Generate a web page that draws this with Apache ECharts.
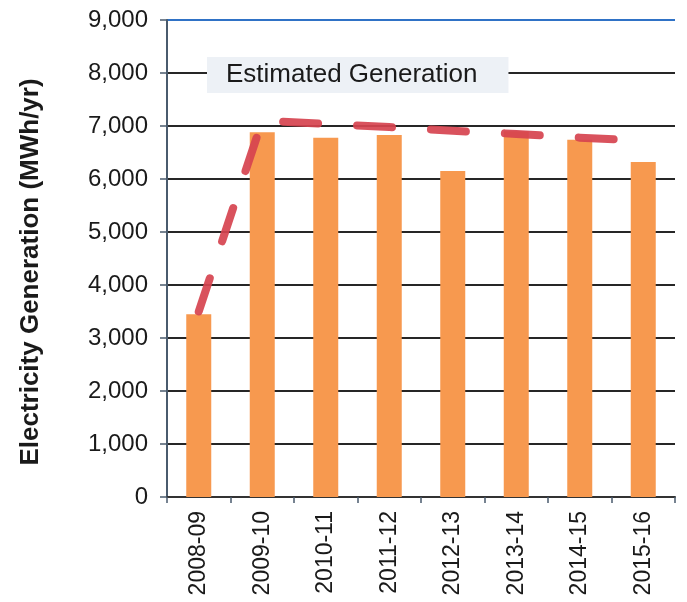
<!DOCTYPE html>
<html>
<head>
<meta charset="utf-8">
<script src="https://cdn.jsdelivr.net/npm/echarts@6/dist/echarts.min.js"></script>
<style>
html,body{margin:0;padding:0;background:#fff;}
#chart{width:687px;height:602px;}
</style>
</head>
<body>
<div id="chart"></div>
<script>
const categories = ['2008-09','2009-10','2010-11','2011-12','2012-13','2013-14','2014-15','2015-16'];
const actualGeneration = [3450, 6880, 6780, 6830, 6150, 6900, 6740, 6320];
const estimatedGeneration = [3500, 7100, 7040, 6980, 6910, 6850, 6780, 6720];
const yTicks = [0, 1000, 2000, 3000, 4000, 5000, 6000, 7000, 8000, 9000];
const yAxisTitle = 'Electricity Generation (MWh/yr)';
const legendLabel = 'Estimated Generation';

const font = '"Liberation Sans", Arial, sans-serif';
const chart = echarts.init(document.getElementById('chart'), null, {renderer: 'canvas'});
const gridColors = yTicks.map((v, i) => i === yTicks.length - 1 ? '#2f72c6' : '#262626');

chart.setOption({
  animation: false,
  backgroundColor: '#ffffff',
  grid: {left: 167, top: 20, right: 12, bottom: 105, containLabel: false},
  legend: {
    data: [{name: legendLabel, icon: 'none'}],
    left: 207, top: 57,
    itemWidth: 0, itemHeight: 0, itemGap: 0,
    padding: [5, 31, 5, 14],
    backgroundColor: '#edf1f6',
    selectedMode: false,
    textStyle: {fontFamily: font, fontSize: 26, color: '#1a1a1a'}
  },
  xAxis: {
    type: 'category',
    data: categories,
    axisLine: {show: true, lineStyle: {color: '#333', width: 2}},
    axisTick: {show: true, alignWithLabel: false, length: 6, lineStyle: {color: '#4a5b6d', width: 1.5}},
    axisLabel: {rotate: 90, margin: 14, fontFamily: font, fontSize: 23, color: '#1a1a1a'},
    splitLine: {show: false}
  },
  yAxis: {
    type: 'value',
    min: 0, max: 9000, interval: 1000,
    axisLine: {show: true, lineStyle: {color: '#4a5b6d', width: 2}},
    axisTick: {show: true, length: 7, lineStyle: {color: '#4a5b6d', width: 1.5}},
    axisLabel: {
      margin: 19, fontFamily: font, fontSize: 24, color: '#1a1a1a',
      formatter: v => v.toLocaleString('en-US')
    },
    splitLine: {show: true, lineStyle: {color: gridColors, width: 1.8}}
  },
  graphic: [{
    type: 'text',
    x: 31, y: 272,
    rotation: Math.PI / 2,
    style: {
      text: yAxisTitle,
      font: 'bold 26px ' + font,
      fill: '#1a1a1a',
      textAlign: 'center',
      textVerticalAlign: 'middle'
    }
  }],
  series: [
    {
      name: 'Actual Generation',
      type: 'bar',
      data: actualGeneration,
      barWidth: 25,
      itemStyle: {color: '#f7994f'},
      z: 2
    },
    {
      name: legendLabel,
      type: 'line',
      data: estimatedGeneration,
      symbol: 'none',
      smooth: false,
      lineStyle: {color: '#d6434f', width: 8, type: [35, 39], cap: 'round', join: 'round', opacity: 0.92},
      z: 5
    }
  ]
});
</script>
</body>
</html>
